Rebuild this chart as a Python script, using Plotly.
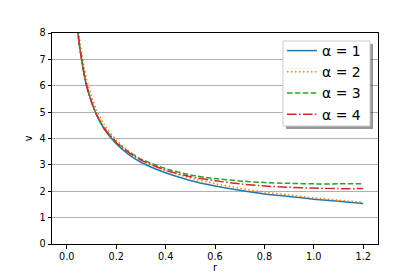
import plotly.graph_objects as go

r = [0.04, 0.05, 0.06, 0.07, 0.08, 0.10, 0.12, 0.15, 0.20, 0.25, 0.30, 0.40,
     0.50, 0.60, 0.70, 0.80, 0.90, 1.00, 1.10, 1.20]
v_a1 = [8.50, 7.60, 7.00, 6.45, 6.00, 5.38, 4.90, 4.38, 3.80, 3.40, 3.10, 2.70,
        2.41, 2.20, 2.04, 1.90, 1.80, 1.70, 1.62, 1.54]
v_a2 = [8.80, 7.90, 7.25, 6.70, 6.25, 5.60, 5.10, 4.55, 3.95, 3.53, 3.22, 2.79,
        2.50, 2.29, 2.11, 1.97, 1.86, 1.75, 1.66, 1.58]
v_a3 = [8.50, 7.60, 7.00, 6.45, 6.00, 5.40, 4.92, 4.42, 3.87, 3.50, 3.22, 2.86,
        2.62, 2.48, 2.39, 2.33, 2.30, 2.28, 2.28, 2.28]
v_a4 = [8.50, 7.60, 7.00, 6.45, 6.00, 5.39, 4.91, 4.40, 3.85, 3.47, 3.18, 2.80,
        2.55, 2.40, 2.28, 2.20, 2.15, 2.12, 2.10, 2.10]
names = ["α = 1", "α = 2", "α = 3", "α = 4"]
series = [v_a1, v_a2, v_a3, v_a4]
colors = ["#1f77b4", "#ff7f0e", "#2ca02c", "#d62728"]
dashes = ["solid", "1.5px,2.5px", "5.5px,2.4px", "9.6px,2.4px,1.5px,2.4px"]

x_ticks = [0.0, 0.2, 0.4, 0.6, 0.8, 1.0, 1.2]
y_ticks = [0, 1, 2, 3, 4, 5, 6, 7, 8]

fig = go.Figure()
for n, v, c, d in zip(names, series, colors, dashes):
    fig.add_trace(go.Scatter(x=r, y=v, mode="lines", name=n,
                             line=dict(color=c, width=1.5, dash=d,
                                       shape="spline", smoothing=0.6)))

# page body has an 8px margin; target plot area in window px: x 52..378, y 33..244
OFF = 8
W, H = 420 - OFF, 280 - OFF
L, T = 52 - OFF, 33 - OFF
R = W - (378 - OFF)
B = H - (244 - OFF)
pw, ph = W - L - R, H - T - B

def px2paper(x, y):
    # x, y in window pixels
    return (x - 52) / pw, (244 - y) / ph

# legend frame with shadow
sx0, sy0 = px2paper(286, 129)
sx1, sy1 = px2paper(373, 44)
fig.add_shape(type="rect", xref="paper", yref="paper", x0=sx0, y0=sy0, x1=sx1, y1=sy1,
              fillcolor="rgba(0,0,0,0.4)", line=dict(width=0), layer="above")
bx0, by0 = px2paper(283, 126)
bx1, by1 = px2paper(370, 41)
fig.add_shape(type="rect", xref="paper", yref="paper", x0=bx0, y0=by0, x1=bx1, y1=by1,
              fillcolor="white", line=dict(width=1, color="#cccccc"), layer="above")

lx, ly = px2paper(282, 35)
fig.update_layout(
    width=W, height=H,
    margin=dict(l=L, r=R, t=T, b=B, autoexpand=False),
    paper_bgcolor="white", plot_bgcolor="white",
    font=dict(family="DejaVu Sans", size=9.7, color="black"),
    showlegend=True,
    legend=dict(x=lx, y=ly, xanchor="left", yanchor="top",
                font=dict(size=14, family="DejaVu Sans"),
                bgcolor="rgba(0,0,0,0)", borderwidth=0,
                itemwidth=30, tracegroupgap=0),
    xaxis=dict(range=[-0.06, 1.26], tickvals=x_ticks,
               ticktext=[f"{t:.1f}" for t in x_ticks],
               showgrid=False, zeroline=False, showline=True, mirror=True,
               linecolor="black", linewidth=1, ticks="outside", ticklen=3.5,
               tickcolor="black",
               title=dict(text="r", font=dict(size=9.7), standoff=2)),
    yaxis=dict(range=[0, 8], tickvals=y_ticks,
               showgrid=True, gridcolor="#b0b0b0", gridwidth=0.8,
               zeroline=False, showline=True, mirror=True,
               linecolor="black", linewidth=1, ticks="outside", ticklen=3.5,
               tickcolor="black",
               title=dict(text="v", font=dict(size=9.7), standoff=4)),
)

fig.write_html("out.html")
